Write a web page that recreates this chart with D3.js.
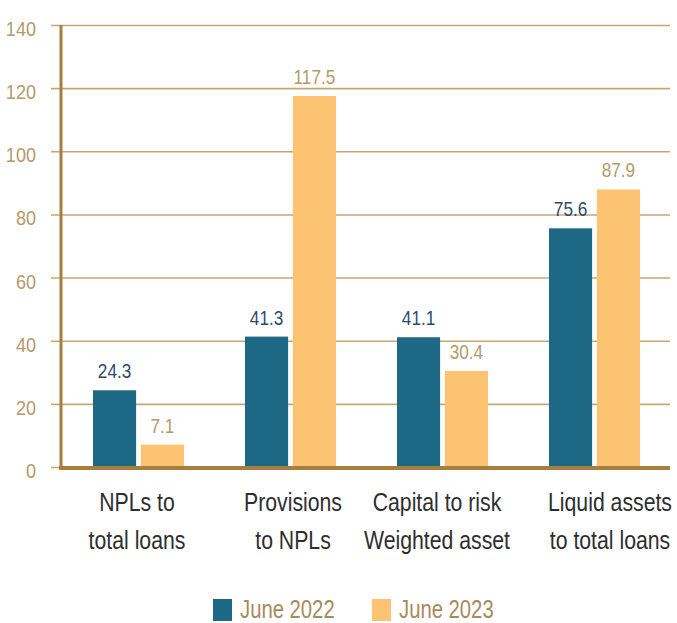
<!DOCTYPE html>
<html>
<head>
<meta charset="utf-8">
<script src="https://cdn.jsdelivr.net/npm/d3@7"></script>
<style>
  body { margin: 0; background: #fff; }
  text { font-family: "Liberation Sans", Arial, sans-serif; }
</style>
</head>
<body>
<div id="chart"></div>
<script>
const categories = [
    ["NPLs to", "total loans"],
    ["Provisions", "to NPLs"],
    ["Capital to risk", "Weighted asset"],
    ["Liquid assets", "to total loans"]
];
const seriesNames = ["June 2022", "June 2023"];
const june2022 = [24.3, 41.3, 41.1, 75.6];
const june2023 = [7.1, 117.5, 30.4, 87.9];
const yTicks = [0, 20, 40, 60, 80, 100, 120, 140];

const colors = { "June 2022": "#1c6885", "June 2023": "#fcc472" };
const labelColors = { "June 2022": "#2b4b6b", "June 2023": "#b5996b" };

// the source centres its category labels a little off the bar groups
const catShift = [-2, 2, -6, 15];

const width = 677, height = 623;

let svg = d3.select('#chart').append('svg')
    .attr('width', width)
    .attr('height', height);

let x0 = d3.scaleBand()
    .domain(d3.range(categories.length))
    .range([63, 671]);

let x1 = d3.scaleBand()
    .domain(seriesNames)
    .range([0, 91])
    .paddingInner(0.1);

let y = d3.scaleLinear()
    .domain([0, 140])
    .range([467, 25]);

// gridlines + tick stubs
let yAxis = d3.axisLeft(y)
    .tickValues(yTicks)
    .tickSize(-(670 - 51))
    .tickPadding(15);

let gy = svg.append('g')
    .attr('transform', 'translate(51,0)')
    .call(yAxis);

gy.select('.domain').remove();
gy.selectAll('.tick line')
    .attr('stroke', '#c6a774')
    .attr('stroke-width', 1.6);

// narrow the tick labels (reference font is condensed)
const tickSx = 0.86;
gy.selectAll('.tick text')
    .attr('fill', '#b5996b')
    .attr('font-size', 21)
    .attr('x', -15 / tickSx)
    .attr('dy', '0.5em')
    .attr('transform', `scale(${tickSx},1)`);

// y axis line
svg.append('line')
    .attr('x1', 61).attr('x2', 61)
    .attr('y1', y(140)).attr('y2', y(0) + 2)
    .attr('stroke', '#a67f3e')
    .attr('stroke-width', 3);

// bars
const rows = categories.map((c, i) => ({
    i: i,
    values: [
        { key: "June 2022", value: june2022[i] },
        { key: "June 2023", value: june2023[i] }
    ]
}));

let groups = svg.append('g').selectAll('g')
    .data(rows)
    .enter()
    .append('g')
    .attr('transform', d => `translate(${x0(d.i) + x0.bandwidth() / 2 - 46},0)`);

groups.selectAll('rect')
    .data(d => d.values)
    .enter()
    .append('rect')
    .attr('x', d => x1(d.key))
    .attr('y', d => y(d.value))
    .attr('width', x1.bandwidth())
    .attr('height', d => y(0) - y(d.value))
    .attr('fill', d => colors[d.key]);

const valSx = 0.86;
groups.selectAll('g.value')
    .data(d => d.values)
    .enter()
    .append('g')
    .classed('value', true)
    .attr('transform', d => `translate(${x1(d.key) + x1.bandwidth() / 2},${y(d.value) - 12}) scale(${valSx},1)`)
    .append('text')
    .attr('text-anchor', 'middle')
    .attr('font-size', 20)
    .attr('fill', d => labelColors[d.key])
    .text(d => d.value);

// x axis line
svg.append('line')
    .attr('x1', 59).attr('x2', 670)
    .attr('y1', y(0) + 1).attr('y2', y(0) + 1)
    .attr('stroke', '#a67f3e')
    .attr('stroke-width', 4);

// category labels
const catSx = 0.85;
let cat = svg.append('g').selectAll('g')
    .data(categories)
    .enter()
    .append('g')
    .attr('transform', (d, i) => `translate(${x0(i) + x0.bandwidth() / 2 + catShift[i]},511) scale(${catSx},1)`)
    .append('text')
    .attr('text-anchor', 'middle')
    .attr('font-size', 25)
    .attr('fill', '#2e2e2e');

cat.selectAll('tspan')
    .data(d => d)
    .enter()
    .append('tspan')
    .attr('x', 0)
    .attr('dy', (d, i) => i === 0 ? 0 : 38)
    .text(d => d);

// legend
const legendX = [213, 372];
let legend = svg.append('g').selectAll('g')
    .data(seriesNames)
    .enter()
    .append('g')
    .attr('transform', (d, i) => `translate(${legendX[i]},599)`);

legend.append('rect')
    .attr('width', 19)
    .attr('height', 22)
    .attr('fill', d => colors[d]);

legend.append('g')
    .attr('transform', 'translate(27,19) scale(0.78,1)')
    .append('text')
    .attr('font-size', 26)
    .attr('fill', '#a88a5c')
    .text(d => d);
</script>
</body>
</html>
